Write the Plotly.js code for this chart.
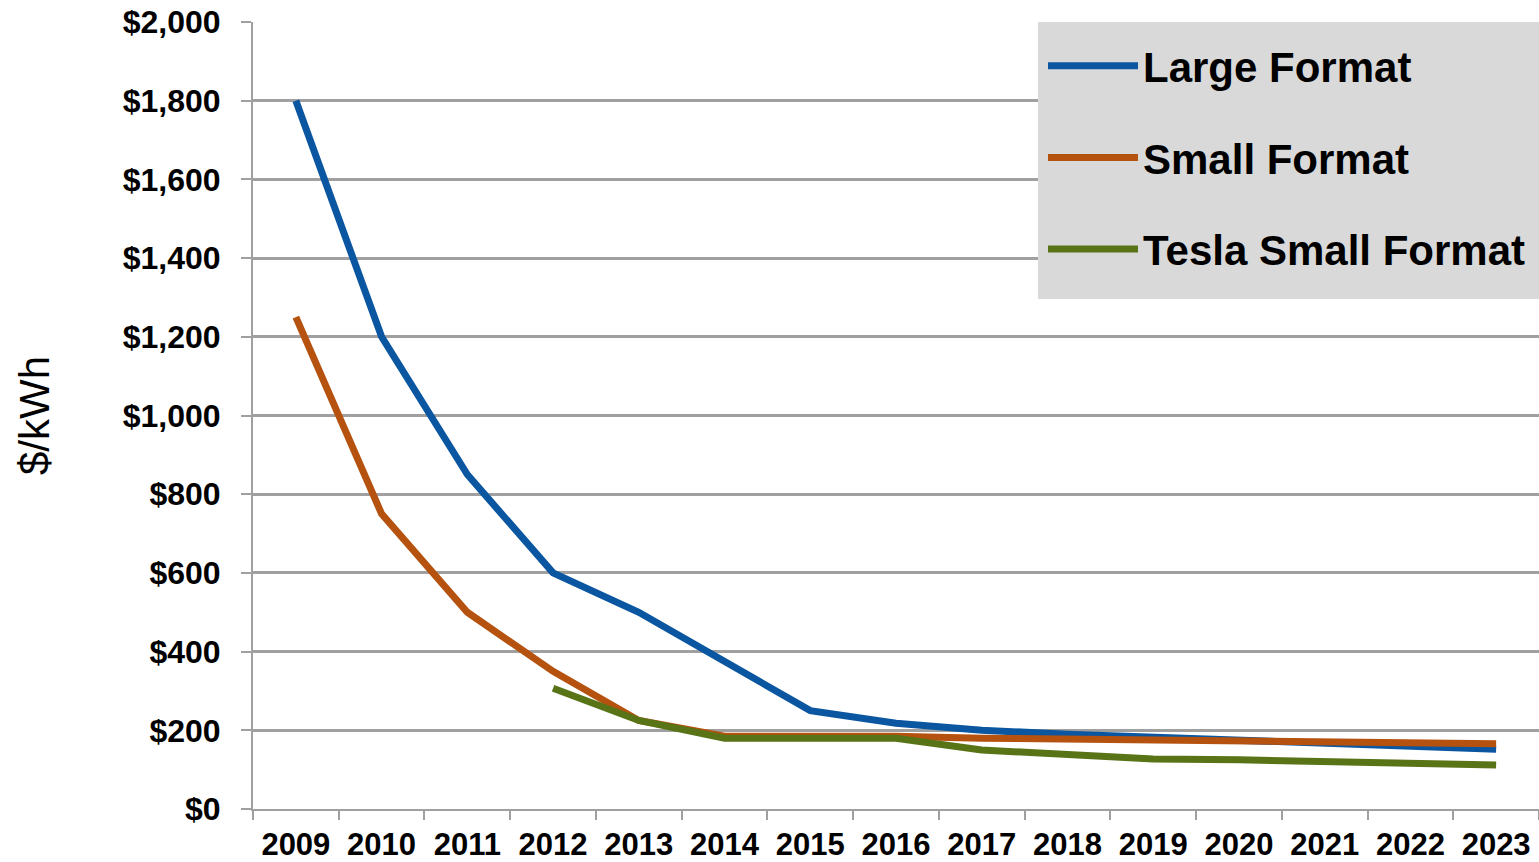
<!DOCTYPE html>
<html>
<head>
<meta charset="utf-8">
<script src="https://cdn.plot.ly/plotly-3.0.1.min.js"></script>
<style>html,body{margin:0;padding:0;background:#fff;}#chart{width:1539px;height:862px;}</style>
</head>
<body>
<div id="chart"></div>
<script>
const years = ["2009","2010","2011","2012","2013","2014","2015","2016","2017","2018","2019","2020","2021","2022","2023"];
const largeFormat = [1800,1200,850,600,500,375,250,218,200,190,183,174,166,158,152];
const smallFormat = [1250,750,500,350,225,185,185,185,180,178,176,173,170,168,166];
const teslaSmallFormat = [null,null,null,307,225,180,180,180,150,137,127,125,120,115,112];
const seriesNames = ["Large Format","Small Format","Tesla Small Format"];
const seriesColors = ["#0a56a0","#b5520f","#587417"];

const seriesValues = [largeFormat, smallFormat, teslaSmallFormat];
const traces = seriesValues.map((vals, i) => ({
  type: "scatter",
  mode: "lines",
  x: years,
  y: vals,
  name: seriesNames[i],
  legendgroup: "g" + i,
  connectgaps: false,
  line: {color: seriesColors[i], width: 7}
}));

const font = "Liberation Sans, Arial, sans-serif";
const layout = {
  width: 1539, height: 862,
  margin: {l: 253, r: 0, t: 22, b: 53},
  paper_bgcolor: "#ffffff",
  plot_bgcolor: "#ffffff",
  showlegend: true,
  shapes: [{
    type: "rect", xref: "paper", yref: "paper", layer: "above",
    x0: 0.6104, x1: 1.02, y0: 0.648, y1: 1,
    fillcolor: "#d9d9d9", line: {width: 0}
  }],
  legend: {
    x: 0.6143, xanchor: "left", y: 0.9873, yanchor: "top",
    bgcolor: "rgba(0,0,0,0)",
    borderwidth: 0,
    itemwidth: 90,
    traceorder: "grouped",
    tracegroupgap: 34,
    font: {family: font, size: 42, color: "#000", weight: "bold"}
  },
  xaxis: {
    type: "category",
    range: [-0.5, 14.5],
    fixedrange: true,
    showgrid: false,
    showline: true, linecolor: "#a0a0a0", linewidth: 2,
    ticks: "outside", tickson: "boundaries", ticklen: 9, tickcolor: "#a0a0a0", tickwidth: 2,
    tickfont: {family: font, size: 31, color: "#000", weight: "bold"},
    ticklabelstandoff: 7
  },
  yaxis: {
    range: [0, 2000],
    dtick: 200,
    tickprefix: "$",
    tickformat: ",d",
    showgrid: true, gridcolor: "#a0a0a0", gridwidth: 3,
    zeroline: false,
    showline: true, linecolor: "#a0a0a0", linewidth: 2,
    ticks: "outside", ticklen: 10, tickcolor: "#a0a0a0", tickwidth: 2,
    tickfont: {family: font, size: 32, color: "#000", weight: "bold"},
    ticklabelstandoff: 14,
    title: {text: "$/kWh", standoff: 60, font: {family: font, size: 42, color: "#000"}}
  }
};
Plotly.newPlot("chart", traces, layout, {displayModeBar: false, staticPlot: true});
</script>
</body>
</html>
